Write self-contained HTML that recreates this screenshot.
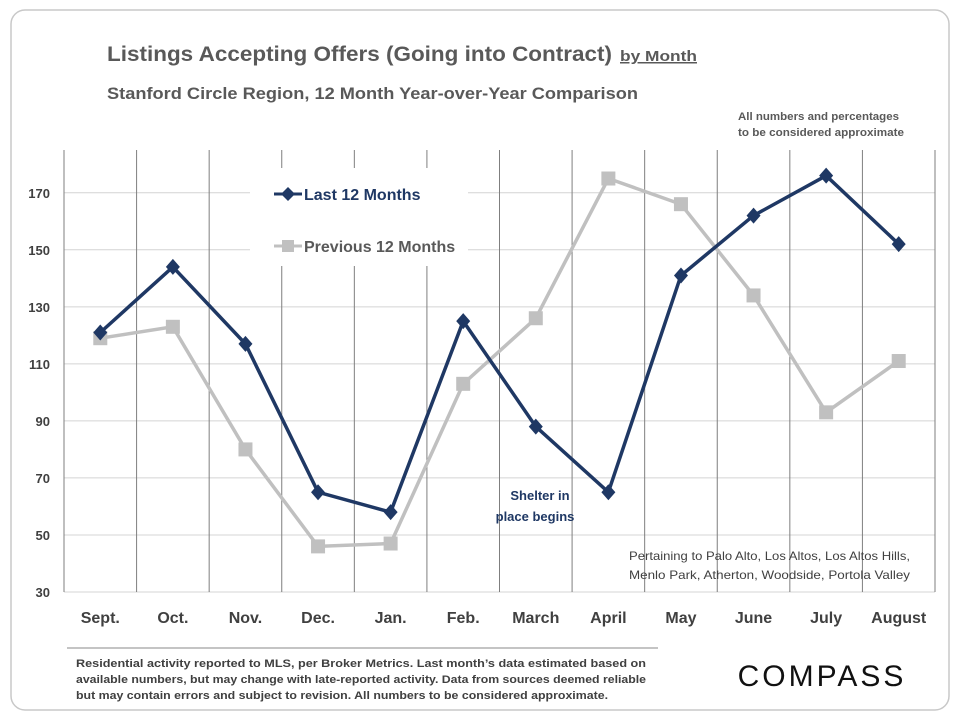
<!DOCTYPE html>
<html><head><meta charset="utf-8"><style>
body{margin:0;background:#fff;width:960px;height:720px;overflow:hidden;font-family:"Liberation Sans",sans-serif}
</style></head><body>
<svg id="c" width="960" height="720" xmlns="http://www.w3.org/2000/svg">
<rect x="11" y="10" width="938" height="700" rx="14" fill="#fff" stroke="#c8c8c8" stroke-width="1.5"/>
<text x="107" y="61" font-size="21" font-weight="bold" fill="#595959" textLength="505" lengthAdjust="spacingAndGlyphs">Listings Accepting Offers (Going into Contract)</text>
<text x="620" y="61" font-size="15" font-weight="bold" fill="#595959" text-decoration="underline" textLength="77" lengthAdjust="spacingAndGlyphs">by Month</text>
<text x="107" y="99" font-size="17" font-weight="bold" fill="#595959" textLength="531" lengthAdjust="spacingAndGlyphs">Stanford Circle Region, 12 Month Year-over-Year  Comparison</text>
<text x="738" y="120" font-size="11" font-weight="bold" fill="#595959" textLength="161" lengthAdjust="spacingAndGlyphs">All numbers and percentages</text>
<text x="738" y="136" font-size="11" font-weight="bold" fill="#595959" textLength="166" lengthAdjust="spacingAndGlyphs">to be considered approximate</text>
<g id="grid"></g><g id="series"></g>
<rect x="250" y="168" width="218" height="98" fill="#fff"/>
<g>
<line x1="274" y1="194" x2="302" y2="194" stroke="#1f3864" stroke-width="3"/>
<path d="M288 187 L295 194 L288 201 L281 194Z" fill="#1f3864"/>
<text x="304" y="200" font-size="16" font-weight="bold" fill="#1f3864">Last 12 Months</text></g>
<g>
<line x1="274" y1="246" x2="302" y2="246" stroke="#c0c0c0" stroke-width="3"/>
<rect x="282" y="240" width="12" height="12" fill="#c0c0c0"/>
<text x="304" y="252" font-size="16" font-weight="bold" fill="#595959">Previous 12 Months</text></g>
<text x="540" y="500" font-size="13" font-weight="bold" fill="#1f3864" text-anchor="middle">Shelter in</text>
<text x="535" y="521" font-size="13" font-weight="bold" fill="#1f3864" text-anchor="middle">place  begins</text>
<text x="910" y="560" font-size="12" fill="#404040" text-anchor="end" textLength="281" lengthAdjust="spacingAndGlyphs">Pertaining to Palo Alto, Los Altos, Los Altos Hills,</text>
<text x="910" y="579" font-size="12" fill="#404040" text-anchor="end" textLength="281" lengthAdjust="spacingAndGlyphs">Menlo Park, Atherton, Woodside, Portola Valley</text>
<line x1="67" y1="648" x2="658" y2="648" stroke="#888"/>
<text font-size="11" font-weight="bold" fill="#404040">
<tspan x="76" y="667" textLength="570" lengthAdjust="spacingAndGlyphs">Residential activity reported to MLS, per Broker Metrics. Last month’s data estimated based on</tspan>
<tspan x="76" y="683" textLength="570" lengthAdjust="spacingAndGlyphs">available numbers, but may change with late-reported activity. Data from sources deemed reliable</tspan>
<tspan x="76" y="699" textLength="532" lengthAdjust="spacingAndGlyphs">but may contain errors and subject to revision. All numbers to be considered approximate.</tspan></text>
<text x="822" y="686" font-size="30" fill="#111" text-anchor="middle" letter-spacing="3">COMPASS</text>
</svg>
<script>
const categories=["Sept.","Oct.","Nov.","Dec.","Jan.","Feb.","March","April","May","June","July","August"];
const lastValues=[121,144,117,65,58,125,88,65,141,162,176,152];
const prevValues=[119,123,80,46,47,103,126,175,166,134,93,111];
const yTicks=[30,50,70,90,110,130,150,170];
const NS="http://www.w3.org/2000/svg";
const L=64,R=935,T=150,B=592,yMin=30,yMax=185;
const bw=(R-L)/categories.length;
const xs=i=>L+bw*(i+0.5);
const ys=v=>B-(v-yMin)/(yMax-yMin)*(B-T);
const grid=document.getElementById('grid'),ser=document.getElementById('series');
function mk(tag,at,par){const e=document.createElementNS(NS,tag);for(const k in at)e.setAttribute(k,at[k]);par.appendChild(e);return e;}
yTicks.forEach(v=>{
 const l=mk('line',{x1:L,x2:R,y1:ys(v),y2:ys(v),stroke:'#d4d4d4'},grid);
 
 
 const t=mk('text',{x:50,y:ys(v)+5,'font-size':13,'font-weight':'bold',fill:'#404040','text-anchor':'end'},grid);
 t.textContent=v;
 
 
});
for(let i=0;i<=categories.length;i++){
 const x=L+bw*i;
 const l=mk('line',{x1:x,x2:x,y1:T,y2:B,stroke:'#7f7f7f'},grid);
 
 
}
categories.forEach((c,i)=>{
 const t=mk('text',{x:xs(i),y:623,'font-size':16,'font-weight':'bold',fill:'#404040','text-anchor':'middle'},grid);
 t.textContent=c;
 
 
});
function line(vals,color,name){
 const p=mk('polyline',{points:vals.map((v,i)=>xs(i)+','+ys(v)).join(' '),fill:'none',stroke:color,'stroke-width':3.5},ser);
 
 
}
line(prevValues,'#c0c0c0','previous');
prevValues.forEach((v,i)=>{
 const r=mk('rect',{x:xs(i)-7,y:ys(v)-7,width:14,height:14,fill:'#c0c0c0'},ser);
 
 
});
line(lastValues,'#1f3864','last');
lastValues.forEach((v,i)=>{
 const x=xs(i),y=ys(v);
 const p=mk('path',{d:`M${x} ${y-8}L${x+7} ${y}L${x} ${y+8}L${x-7} ${y}Z`,fill:'#1f3864'},ser);
 
 
});
</script>
</body></html>
